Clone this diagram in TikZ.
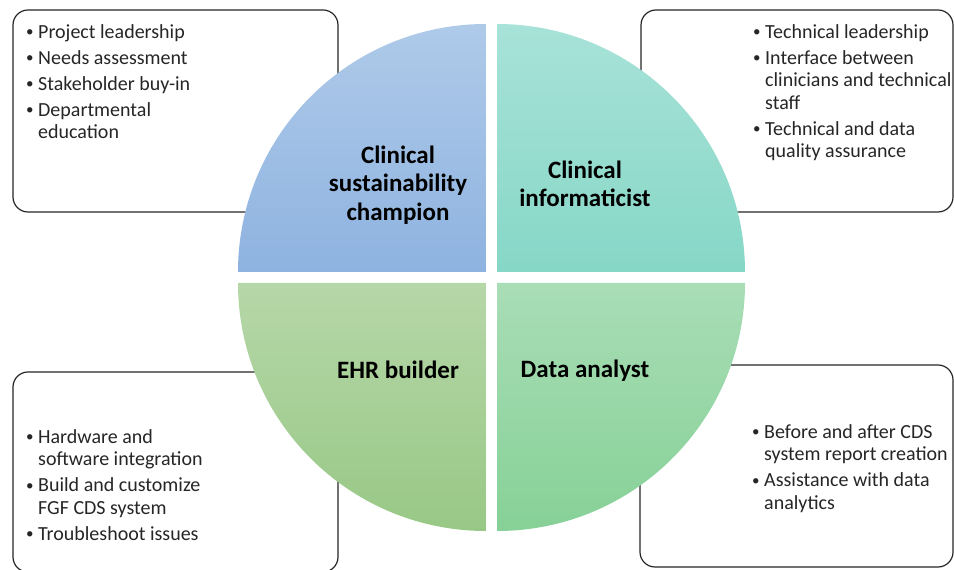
\documentclass[tikz,border=0pt]{standalone}
\usepackage{fontspec}
\setmainfont{Carlito}
\definecolor{txt}{HTML}{262626}
\newcommand{\bul}{\makebox[13pt][l]{\hspace*{1pt}\raisebox{1.6pt}{\fontsize{15}{15}\selectfont\textbullet}}}
\newcommand{\ind}{\hspace*{13pt}}
\begin{document}
\begin{tikzpicture}[x=1pt,y=1pt,
  infobox/.style={draw=black!85, line width=1.2pt, rounded corners=15pt, fill=white, inner sep=0pt},
  bullets/.style={anchor=north west, align=left, inner sep=0pt, text=txt, font=\fontsize{20}{22.5}\selectfont},
  role/.style={align=center, inner sep=0pt, text=black, font=\fontsize{25}{28.5}\selectfont\bfseries}]
\useasboundingbox (0,0) rectangle (954,570);
% boxes
\node[infobox, minimum width=325pt, minimum height=202pt] (b1) at (175.5,459) {};
\node[infobox, minimum width=312pt, minimum height=202pt] (b2) at (797,459) {};
\node[infobox, minimum width=325pt, minimum height=200pt] (b3) at (175.5,98) {};
\node[infobox, minimum width=313pt, minimum height=202pt] (b4) at (796.5,104) {};
% quadrants
\shade[top color={rgb,255:red,175;green,202;blue,233}, bottom color={rgb,255:red,142;green,179;blue,224}]
  (486,298) -- ++(-248,0) arc(180:90:248) -- cycle;
\shade[top color={rgb,255:red,168;green,226;blue,216}, bottom color={rgb,255:red,134;green,215;blue,199}]
  (497,298) -- ++(0,248) arc(90:0:248) -- cycle;
\shade[top color={rgb,255:red,182;green,215;blue,168}, bottom color={rgb,255:red,152;green,200;blue,134}]
  (486,287) -- ++(-248,0) arc(180:270:248) -- cycle;
\shade[top color={rgb,255:red,169;green,221;blue,182}, bottom color={rgb,255:red,134;green,209;blue,151}]
  (497,287) -- ++(248,0) arc(0:-90:248) -- cycle;
% role labels
\node[role] (r1) at (398,385) {Clinical\\sustainability\\champion};
\node[role] (r2) at (585,386) {Clinical\\informaticist};
\node[role] (r3) at (398,200) {EHR builder};
\node[role] (r4) at (585,199) {Data analyst};
% bullet texts
\node[bullets] (t1) at (25,547.75) {\strut\bul Project leadership\\[3.5pt]
  \bul Needs assessment\\[3.5pt]
  \bul Stakeholder buy-in\\[3.5pt]
  \bul Departmental\\ \ind education};
\node[bullets] (t2) at (752,547.75) {\strut\bul Technical leadership\\[3.5pt]
  \bul Interface between\\ \ind clinicians and technical\\ \ind staff\\[3.5pt]
  \bul Technical and data\\ \ind quality assurance};
\node[bullets] (t3) at (25,142.75) {\strut\bul Hardware and\\ \ind software integration\\[3.5pt]
  \bul Build and customize\\ \ind FGF CDS system\\[3.5pt]
  \bul Troubleshoot issues};
\node[bullets] (t4) at (751,147.75) {\strut\bul Before and after CDS\\ \ind system report creation\\[3.5pt]
  \bul Assistance with data\\ \ind analytics};
\end{tikzpicture}
\end{document}
